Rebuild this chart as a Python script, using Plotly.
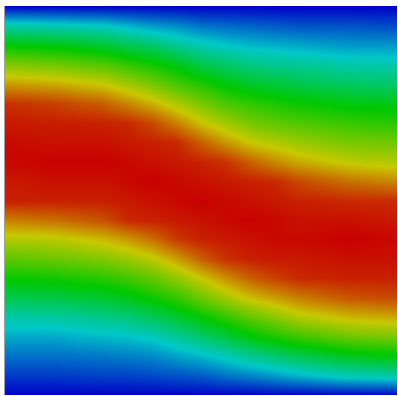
import plotly.graph_objects as go

# column positions (left -> right) and row positions (top -> bottom)
x_cols = [0, 1, 2, 2.5, 3, 3.5, 4, 4.5, 5, 5.5, 6, 7, 8]
y_rows = list(range(21))

# field values, one list per row (top to bottom)
row00 = [0.00, 0.00, 0.00, 0.00, 0.00, 0.00, 0.00, 0.00, 0.00, 0.00, 0.00, 0.00, 0.00]
row01 = [0.29, 0.27, 0.25, 0.22, 0.19, 0.17, 0.14, 0.13, 0.12, 0.11, 0.10, 0.10, 0.09]
row02 = [0.50, 0.48, 0.44, 0.40, 0.37, 0.32, 0.28, 0.25, 0.23, 0.22, 0.21, 0.19, 0.19]
row03 = [0.66, 0.64, 0.60, 0.56, 0.52, 0.47, 0.41, 0.37, 0.34, 0.32, 0.31, 0.29, 0.28]
row04 = [0.81, 0.79, 0.75, 0.70, 0.65, 0.59, 0.54, 0.49, 0.45, 0.43, 0.41, 0.38, 0.37]
row05 = [0.94, 0.92, 0.88, 0.83, 0.78, 0.71, 0.65, 0.59, 0.56, 0.53, 0.51, 0.48, 0.47]
row06 = [0.97, 0.965, 0.96, 0.95, 0.91, 0.84, 0.76, 0.70, 0.65, 0.62, 0.60, 0.57, 0.55]
row07 = [0.99, 0.98, 0.98, 0.97, 0.96, 0.95, 0.88, 0.81, 0.75, 0.72, 0.69, 0.65, 0.64]
row08 = [0.99, 1.00, 1.00, 0.99, 0.98, 0.97, 0.96, 0.94, 0.88, 0.83, 0.79, 0.74, 0.72]
row09 = [0.97, 0.98, 0.98, 0.99, 1.00, 0.99, 0.98, 0.97, 0.96, 0.95, 0.91, 0.86, 0.83]
row10 = [0.96, 0.96, 0.96, 0.97, 0.98, 0.99, 1.00, 0.99, 0.98, 0.97, 0.96, 0.95, 0.95]
row11 = [0.84, 0.86, 0.90, 0.95, 0.96, 0.97, 0.98, 0.99, 1.00, 0.99, 0.98, 0.98, 0.97]
row12 = [0.72, 0.73, 0.77, 0.81, 0.86, 0.93, 0.96, 0.97, 0.98, 0.99, 0.99, 1.00, 0.99]
row13 = [0.61, 0.63, 0.66, 0.69, 0.73, 0.80, 0.88, 0.94, 0.96, 0.97, 0.97, 0.98, 0.98]
row14 = [0.51, 0.52, 0.55, 0.58, 0.62, 0.68, 0.75, 0.82, 0.88, 0.92, 0.95, 0.96, 0.96]
row15 = [0.40, 0.41, 0.44, 0.47, 0.51, 0.56, 0.63, 0.70, 0.76, 0.80, 0.84, 0.89, 0.91]
row16 = [0.29, 0.30, 0.33, 0.35, 0.39, 0.44, 0.50, 0.56, 0.62, 0.67, 0.72, 0.77, 0.79]
row17 = [0.21, 0.21, 0.23, 0.24, 0.26, 0.31, 0.36, 0.42, 0.48, 0.53, 0.57, 0.63, 0.65]
row18 = [0.14, 0.14, 0.15, 0.16, 0.17, 0.20, 0.23, 0.27, 0.32, 0.36, 0.40, 0.46, 0.49]
row19 = [0.07, 0.07, 0.08, 0.08, 0.09, 0.10, 0.11, 0.14, 0.16, 0.19, 0.22, 0.27, 0.29]
row20 = [0.00, 0.00, 0.00, 0.00, 0.00, 0.00, 0.00, 0.00, 0.00, 0.00, 0.00, 0.00, 0.00]

z_rows = [row00, row01, row02, row03, row04, row05, row06, row07, row08, row09,
          row10, row11, row12, row13, row14, row15, row16, row17, row18, row19, row20]

colorscale = [
    [0.00, "rgb(0,0,200)"],
    [0.25, "rgb(0,200,200)"],
    [0.50, "rgb(0,200,0)"],
    [0.75, "rgb(200,200,0)"],
    [1.00, "rgb(200,0,0)"],
]

fig = go.Figure(go.Heatmap(
    x=x_cols, y=y_rows, z=z_rows,
    zmin=0, zmax=1, zsmooth="best",
    colorscale=colorscale, showscale=False, hoverinfo="skip",
))

fig.update_layout(
    width=398, height=396,
    margin=dict(l=5, r=1, t=6, b=1),
    paper_bgcolor="white", plot_bgcolor="white",
    xaxis=dict(visible=False, range=[0, 8]),
    yaxis=dict(range=[20, 0], showline=True, linecolor="rgba(120,120,120,0.7)",
               linewidth=1, showgrid=False, zeroline=False,
               showticklabels=False, ticks=""),
)

fig.write_html(
    "out.html",
    config={"displayModeBar": False},
    post_script="document.body.style.margin='0';document.body.style.overflow='hidden';",
)
